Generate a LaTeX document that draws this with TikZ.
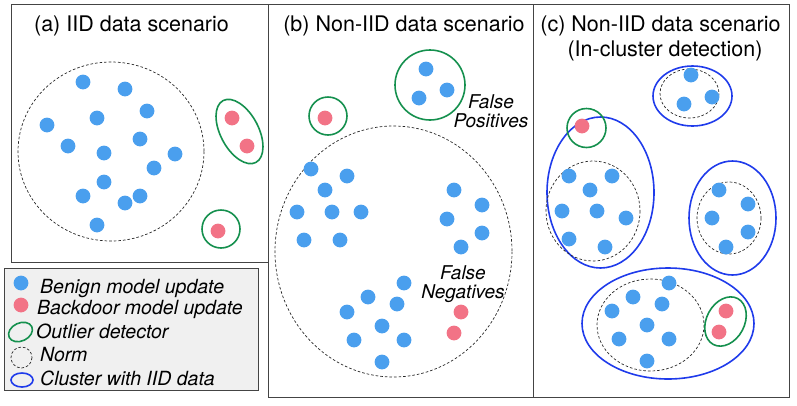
\documentclass[tikz,border=0pt]{standalone}
\usepackage{fontspec}
\setmainfont{TeX Gyre Heros}
\definecolor{benigncol}{HTML}{4A9FEE}
\definecolor{badcol}{HTML}{F27386}
\definecolor{outcol}{HTML}{15904E}
\definecolor{clustcol}{HTML}{1F3BEB}
\definecolor{framecol}{HTML}{444444}
\definecolor{legfill}{HTML}{F0F0F0}
\tikzset{
  panel/.style={draw=framecol, line width=0.9pt},
  normline/.style={draw=black!85, line width=0.7pt, dash pattern=on 2.6pt off 2pt},
  outlier/.style={draw=outcol, line width=1.6pt},
  cluster/.style={draw=clustcol, line width=1.6pt},
  titletext/.style={font=\fontsize{21.5}{24}\selectfont, anchor=base, inner sep=0pt},
  itext/.style={font=\fontsize{19}{21}\selectfont\itshape, inner sep=0pt},
  legtext/.style={font=\fontsize{19.5}{22}\selectfont\itshape, anchor=base west, inner sep=0pt},
}
\newcommand{\bdot}[1]{\fill[benigncol] (#1) circle[radius=7.4];}
\newcommand{\rdot}[1]{\fill[badcol] (#1) circle[radius=7.4];}
\begin{document}
\begin{tikzpicture}[x=1pt,y=-1pt]
\useasboundingbox (0,0) rectangle (797,405);
% panels
\draw[panel] (11,4) rectangle (268,262);
\draw[panel] (268,4) rectangle (533,397);
\draw[panel] (533,4) rectangle (789,397);
% titles
\node[titletext] (ta) at (131.5,31.5) {(a) IID data scenario};
\node[titletext] (tb) at (404,31.5) {(b) Non-IID data scenario};
\node[titletext] (tc1) at (660.5,31) {(c) Non-IID data scenario};
\node[titletext] (tc2) at (665,56) {(In-cluster detection)};

% ---------- panel (a)
\draw[normline] (111,151.5) ellipse[x radius=93, y radius=89.5];
\foreach \p in {{83,82},{125,89},{147,111},{97,118},{47,125},{140,139},{68,146},{104,153},{175,154},{154,168},{104,182},{83,196},{140,196},{125,203},{97,225}}
  {\bdot{\p}}
\rdot{232,118}\rdot{247,146}\rdot{218,231}
\draw[outlier, rotate around={-62:(239.5,131.5)}] (239.5,131.5) ellipse[x radius=35, y radius=19];
\draw[outlier] (221,229) circle[radius=19];

% ---------- panel (b)
\draw[outlier] (430,85) circle[radius=35];
\bdot{426,69}\bdot{419,98}\bdot{447,90}
\draw[outlier] (328,116) circle[radius=19];
\rdot{325,118}
\node[itext, align=center] (fp) at (491,111) {False\\[-2pt]Positives};
\draw[normline] (393.5,251.5) ellipse[x radius=118.5, y radius=125.5];
\foreach \p in {{311,169},{347,176},{325,190},{297,212},{332,212},{361,212},{304,240},{340,240},
  {454,190},{482,205},{447,219},{482,233},{461,247},
  {404,283},{368,297},{397,304},{347,312},{382,326},{354,340},{404,340},{382,362}}
  {\bdot{\p}}
\rdot{461,312}\rdot{454,333}
\node[itext, align=center] (fn) at (463,284) {False\\[-2pt]Negatives};

% ---------- panel (c)
% top cluster
\draw[cluster] (692.5,96) ellipse[x radius=39.5, y radius=30];
\draw[normline] (689.5,93.5) ellipse[x radius=29.5, y radius=24.5];
\bdot{691,75}\bdot{684,104}\bdot{712,97}
% left cluster
\draw[cluster] (600.5,192.5) ellipse[x radius=53.5, y radius=75.5];
\draw[normline] (593,211) ellipse[x radius=47, y radius=50];
\foreach \p in {{569,176},{612,176},{590,190},{562,211},{597,211},{626,218},{569,239},{605,247}}
  {\bdot{\p}}
\draw[outlier] (586.5,128) circle[radius=19.5];
\rdot{582,126}
% right cluster
\draw[cluster] (732.5,218) ellipse[x radius=43.5, y radius=57];
\draw[normline] (729,218) ellipse[x radius=32, y radius=36];
\foreach \p in {{719,190},{748,204},{712,218},{748,232},{726,247}}
  {\bdot{\p}}
% bottom cluster
\draw[cluster] (668,323.5) ellipse[x radius=86, y radius=55.5];
\draw[normline] (650.5,325) ellipse[x radius=53.5, y radius=46];
\foreach \p in {{669,283},{633,297},{662,304},{612,311},{647,325},{619,339},{669,339},{647,361}}
  {\bdot{\p}}
\rdot{726,311}\rdot{719,332}
\draw[outlier, rotate around={62:(725.5,321.5)}] (725.5,321.5) ellipse[x radius=26, y radius=19];

% ---------- legend
\draw[draw=framecol, line width=0.9pt, fill=legfill] (4,268) rectangle (258,390);
\fill[benigncol] (21,283) circle[radius=7.4];
\node[legtext] (l1) at (40,293) {Benign model update};
\fill[badcol] (21,305) circle[radius=7.4];
\node[legtext] (l2) at (37,314) {Backdoor model update};
\draw[outlier, rotate around={25:(20.5,332)}] (20.5,332) ellipse[x radius=12.5, y radius=9];
\node[legtext] (l3) at (36,338) {Outlier detector};
\draw[normline] (21.5,357.5) circle[radius=10.5];
\node[legtext] (l4) at (40,361) {Norm};
\draw[cluster] (22,380) ellipse[x radius=11, y radius=7];
\node[legtext] (l5) at (40,385) {Cluster with IID data};
\end{tikzpicture}
\end{document}
